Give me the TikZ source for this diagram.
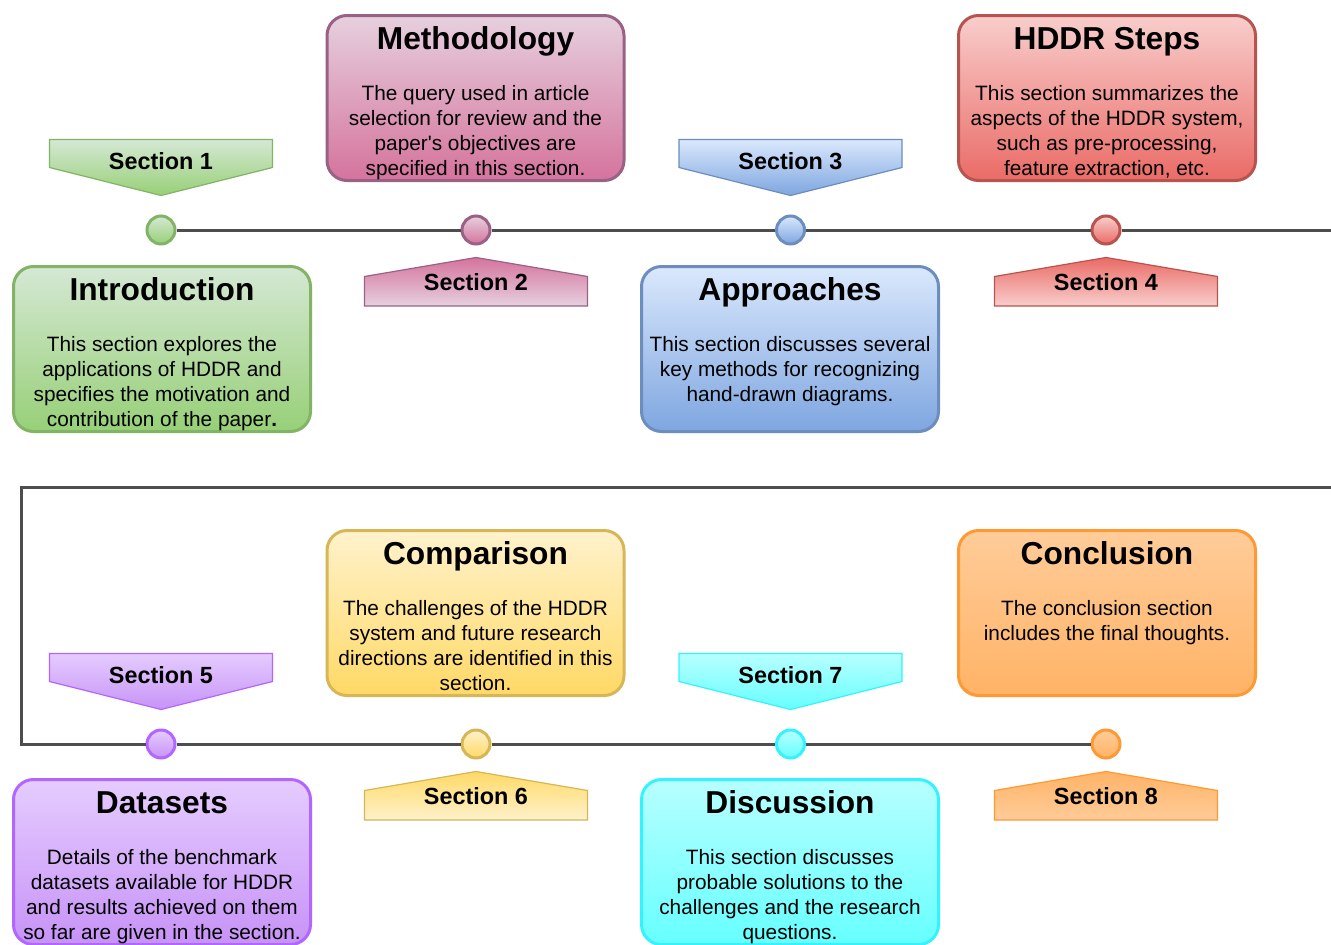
\documentclass[tikz,border=0pt]{standalone}
\usepackage{fontspec}
\setmainfont{Liberation Sans}
\definecolor{gTop}{HTML}{D5E8D4}\definecolor{gBot}{HTML}{97D077}\definecolor{gLine}{HTML}{82B366}
\definecolor{pTop}{HTML}{E6D0DE}\definecolor{pBot}{HTML}{D5739D}\definecolor{pLine}{HTML}{996185}
\definecolor{bTop}{HTML}{DAE8FC}\definecolor{bBot}{HTML}{7EA6E0}\definecolor{bLine}{HTML}{6C8EBF}
\definecolor{rTop}{HTML}{F8CECC}\definecolor{rBot}{HTML}{EA6B66}\definecolor{rLine}{HTML}{B85450}
\definecolor{vTop}{HTML}{E5CCFF}\definecolor{vBot}{HTML}{C793F7}\definecolor{vLine}{HTML}{B266FF}
\definecolor{yTop}{HTML}{FFF2CC}\definecolor{yBot}{HTML}{FFD966}\definecolor{yLine}{HTML}{D6B656}
\definecolor{cTop}{HTML}{B8FFFF}\definecolor{cBot}{HTML}{66FFFF}\definecolor{cLine}{HTML}{33F3FF}
\definecolor{oTop}{HTML}{FFCC99}\definecolor{oBot}{HTML}{FFB366}\definecolor{oLine}{HTML}{FF9933}
\definecolor{tlLine}{RGB}{77,77,77}
\tikzset{
  boxshape/.style={rectangle, rounded corners=20pt, line width=3pt, minimum width=297pt, minimum height=165pt, inner sep=0pt},
  titletext/.style={font=\fontsize{31.7}{36}\selectfont\bfseries, inner sep=0pt, anchor=base},
  bodytext/.style={font=\fontsize{20.8}{25}\selectfont, inner sep=0pt, anchor=north, align=center},
  sectext/.style={font=\fontsize{23.4}{28}\selectfont\bfseries, inner sep=0pt, anchor=base},
  dotshape/.style={circle, minimum size=28pt, line width=3pt, inner sep=0pt},
  tl/.style={draw=tlLine, line width=3pt},
  pent/.style={line width=1.2pt, line join=miter}
}
% #1 name, #2 cx, #3 top, #4 colour prefix, #5 title, #6 body
\newcommand{\MyBox}[6]{%
  \node[boxshape, top color=#4Top, bottom color=#4Bot, draw=#4Line] (#1) at (#2,#3+84) {};
  \node[titletext] (#1t) at (#2,#3+35.5) {#5};
  \node[bodytext] (#1b) at (#2,#3+71.1) {#6};
}
% down-pointing section label: #1 name, #2 cx, #3 top, #4 colour, #5 text
\newcommand{\SecDown}[5]{%
  \path[pent, draw=#4Line, top color=#4Top, bottom color=#4Bot]
    (#2-111.5,#3) -- (#2+111.5,#3) -- (#2+111.5,#3+28) -- (#2,#3+56) -- (#2-111.5,#3+28) -- cycle;
  \node[sectext] (#1) at (#2,#3+29.5) {#5};
}
% up-pointing section label: #1 name, #2 cx, #3 tip, #4 colour, #5 text
\newcommand{\SecUp}[5]{%
  \path[pent, draw=#4Line, top color=#4Bot, bottom color=#4Top]
    (#2,#3) -- (#2+111.5,#3+19) -- (#2+111.5,#3+48.5) -- (#2-111.5,#3+48.5) -- (#2-111.5,#3+19) -- cycle;
  \node[sectext] (#1) at (#2,#3+32.5) {#5};
}
\begin{document}
\begin{tikzpicture}[x=1pt,y=-1pt]
\useasboundingbox (0,0) rectangle (1331,945);
\fill[white] (0,0) rectangle (1331,945);

% timeline nodes
\node[dotshape, top color=gTop, bottom color=gBot, draw=gLine] (c1) at (161,230) {};
\node[dotshape, top color=pTop, bottom color=pBot, draw=pLine] (c2) at (476,230) {};
\node[dotshape, top color=bTop, bottom color=bBot, draw=bLine] (c3) at (790.5,230) {};
\node[dotshape, top color=rTop, bottom color=rBot, draw=rLine] (c4) at (1106,230) {};
\node[dotshape, top color=vTop, bottom color=vBot, draw=vLine] (c5) at (161,744) {};
\node[dotshape, top color=yTop, bottom color=yBot, draw=yLine] (c6) at (476,744) {};
\node[dotshape, top color=cTop, bottom color=cBot, draw=cLine] (c7) at (790.5,744) {};
\node[dotshape, top color=oTop, bottom color=oBot, draw=oLine] (c8) at (1106,744) {};

\coordinate (e1) at (1345,230);
\coordinate (e2) at (1345,487);
\coordinate (k1) at (21,487);
\coordinate (k2) at (21,744);

\draw[tl] (c1) -- (c2) -- (c3) -- (c4) -- (e1);
\draw[tl, line join=miter] (e2) -- (k1) -- (k2) -- (c5);
\draw[tl] (c5) -- (c6) -- (c7) -- (c8);

% row 1
\SecDown{s1}{161}{139.5}{g}{Section 1}
\SecUp{s2}{476}{257.5}{p}{Section 2}
\SecDown{s3}{790.5}{139.5}{b}{Section 3}
\SecUp{s4}{1106}{257.5}{r}{Section 4}

\MyBox{intro}{162}{265}{g}{Introduction}{This section explores the\\applications of HDDR and\\specifies the motivation and\\contribution of the paper\textbf{.}}
\MyBox{meth}{475.5}{14}{p}{Methodology}{The query used in article\\selection for review and the\\paper\textquotesingle s objectives are\\specified in this section.}
\MyBox{appr}{790}{265}{b}{Approaches}{This section discusses several\\key methods for recognizing\\hand-drawn diagrams.}
\MyBox{steps}{1107}{14}{r}{HDDR Steps}{This section summarizes the\\aspects of the HDDR system,\\such as pre-processing,\\feature extraction, etc.}

% row 2
\SecDown{s5}{161}{653.5}{v}{Section 5}
\SecUp{s6}{476}{771.5}{y}{Section 6}
\SecDown{s7}{790.5}{653.5}{c}{Section 7}
\SecUp{s8}{1106}{771.5}{o}{Section 8}

\MyBox{data}{162}{778}{v}{Datasets}{Details of the benchmark\\datasets available for HDDR\\and results achieved on them\\so far are given in the section.}
\MyBox{comp}{475.5}{529}{y}{Comparison}{The challenges of the HDDR\\system and future research\\directions are identified in this\\section.}
\MyBox{disc}{790}{778}{c}{Discussion}{This section discusses\\probable solutions to the\\challenges and the research\\questions.}
\MyBox{concl}{1107}{529}{o}{Conclusion}{The conclusion section\\includes the final thoughts.}
\end{tikzpicture}
\end{document}
